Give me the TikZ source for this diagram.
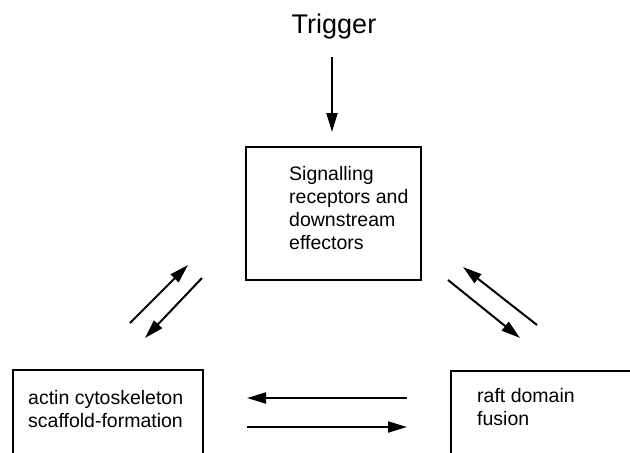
\documentclass[tikz,border=0pt]{standalone}
\usepackage{fontspec}
\setmainfont{Liberation Sans}
\usetikzlibrary{arrows.meta}
\tikzset{
  boxshape/.style={draw, line width=1.5pt, rectangle, inner sep=0pt, anchor=north west},
  boxtext/.style={anchor=north west, inner sep=0pt, align=left, font=\fontsize{19.5}{23}\selectfont},
  flow/.style={line width=2pt, -{Triangle[length=19pt, width=11pt]}}
}
\begin{document}
\begin{tikzpicture}[x=1pt, y=-1pt]
\useasboundingbox (0,0) rectangle (630,453);
% title
\node[anchor=base, inner sep=0pt, font=\fontsize{27}{30}\selectfont] (trigger) at (334,33) {Trigger};
% boxes
\node[boxshape, minimum width=175pt, minimum height=133pt] (sig) at (245,146) {};
\node[boxshape, minimum width=190pt, minimum height=110pt] (actin) at (12,369) {};
\node[boxshape, minimum width=200pt, minimum height=110pt] (raft) at (450,370) {};
% texts
\node[boxtext] (sigtext) at (289,166) {Signalling\\receptors and\\downstream\\effectors};
\node[boxtext] (actintext) at (28,390) {actin cytoskeleton\\scaffold-formation};
\node[boxtext] (rafttext) at (477,388) {raft domain\\fusion};
% arrow end points
\coordinate (t1) at (332,57);  \coordinate (t2) at (332,132);
\coordinate (a1) at (130,323); \coordinate (a2) at (188,265);
\coordinate (b1) at (202,278); \coordinate (b2) at (145,338);
\coordinate (c1) at (537,325); \coordinate (c2) at (463,267);
\coordinate (d1) at (448,280); \coordinate (d2) at (520,338);
\coordinate (e1) at (407,398); \coordinate (e2) at (247,398);
\coordinate (f1) at (247,427); \coordinate (f2) at (407,427);
% arrows
\draw[flow] (t1) -- (t2);
\draw[flow] (a1) -- (a2);
\draw[flow] (b1) -- (b2);
\draw[flow] (c1) -- (c2);
\draw[flow] (d1) -- (d2);
\draw[flow] (e1) -- (e2);
\draw[flow] (f1) -- (f2);
\end{tikzpicture}
\end{document}
